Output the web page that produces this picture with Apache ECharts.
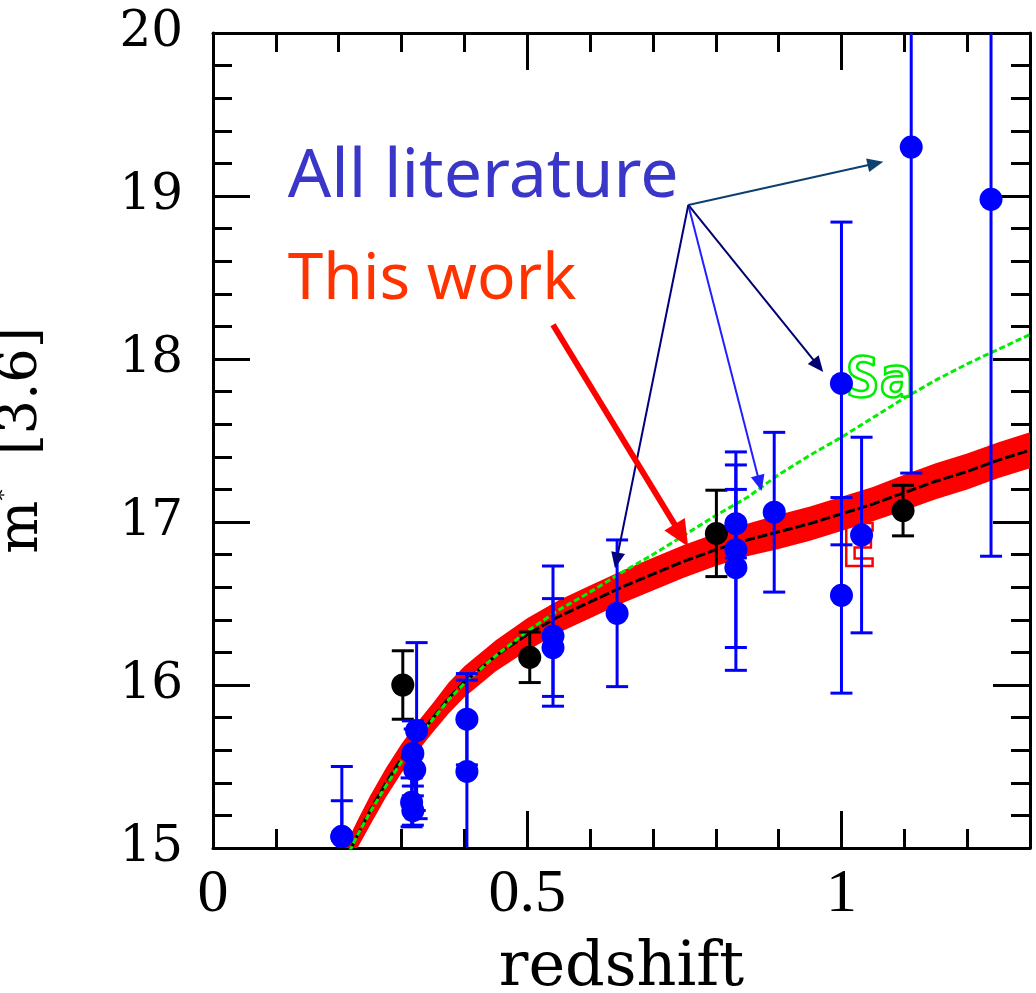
<!DOCTYPE html>
<html>
<head>
<meta charset="utf-8">
<script src="https://cdn.jsdelivr.net/npm/echarts@6/dist/echarts.min.js"></script>
<style>
  html, body { margin: 0; padding: 0; background: #ffffff; }
  #chart { width: 1036px; height: 993px; }
</style>
</head>
<body>
<div id="chart"></div>
<script>
// Redshift grid of the two model tracks
const modelZ  = [0.21, 0.22, 0.23, 0.25, 0.275, 0.30, 0.325, 0.35, 0.375, 0.40, 0.45, 0.50, 0.55, 0.60, 0.65, 0.70, 0.75, 0.80, 0.85, 0.90, 0.95, 1.00, 1.05, 1.10, 1.15, 1.20, 1.25, 1.30];
// Passively evolving (E) track with its uncertainty band, this work
const modelE  = [14.92, 15.00, 15.08, 15.23, 15.40, 15.55, 15.68, 15.80, 15.92, 16.02, 16.18, 16.31, 16.42, 16.51, 16.60, 16.68, 16.76, 16.83, 16.89, 16.94, 16.99, 17.05, 17.11, 17.18, 17.25, 17.31, 17.38, 17.44];
const modelEHalfWidth = [0.09, 0.09, 0.09, 0.09, 0.09, 0.09, 0.09, 0.09, 0.095, 0.095, 0.095, 0.1, 0.1, 0.1, 0.1, 0.1, 0.1, 0.1, 0.1, 0.105, 0.105, 0.105, 0.105, 0.11, 0.11, 0.11, 0.11, 0.11];
// Sa track
const modelSa = [14.93, 15.00, 15.08, 15.22, 15.38, 15.53, 15.67, 15.79, 15.91, 16.01, 16.18, 16.33, 16.46, 16.57, 16.69, 16.80, 16.92, 17.04, 17.15, 17.29, 17.41, 17.52, 17.64, 17.76, 17.87, 17.97, 18.06, 18.15];

// This work: m* at 3.6 micron
const workZ   = [0.302, 0.504, 0.801, 1.098];
const workM   = [16.00, 16.17, 16.93, 17.07];
const workErr = [0.21, 0.155, 0.265, 0.155];

// Literature values
const litZ   = [0.205, 0.205, 0.324, 0.318, 0.321, 0.316, 0.318, 0.404, 0.404, 0.541, 0.541, 0.643, 0.832, 0.832, 0.832, 0.893, 1.000, 1.000, 1.032, 1.111, 1.238];
const litM   = [15.07, 15.07, 15.72, 15.58, 15.48, 15.28, 15.23, 15.79, 15.47, 16.30, 16.23, 16.44, 16.99, 16.83, 16.72, 17.06, 17.85, 16.55, 16.92, 19.30, 18.98];
const litErr = [0.43, 0.22, 0.54, 0.20, 0.25, 0.15, 0.09, 0.28, 0.56, 0.43, 0.30, 0.45, 0.21, 0.60, 0.63, 0.49, 0.99, 0.60, 0.60, 2.00, 2.19];

// Axis ranges and labelled ticks
const xRange = [0, 1.3];
const yRange = [15, 20];
const xLabelValues = [0, 0.5, 1];

// Annotation anchors in data units
const labelAllLit  = { text: 'All literature', at: [0.119, 19.11] };
const labelThis    = { text: 'This work', at: [0.119, 18.48] };
const labelSa      = { text: 'Sa', at: [1.007, 17.865] };
const labelE       = { text: 'E', at: [1.0, 16.82] };
const litArrowFrom = [0.7563, 18.945];
const litArrowTips = [[1.0665, 19.21], [0.971, 17.92], [0.873, 17.19], [0.6396, 16.716]];
const workArrow    = [[0.541, 18.21], [0.756, 16.85]];

const chart = echarts.init(document.getElementById('chart'), null, { renderer: 'canvas' });

const SERIF = '"DejaVu Serif", serif';
const TIMES = '"Liberation Serif", "Times New Roman", serif';

function errorBars(color) {
  return function (params, api) {
    const z = api.value(0), m = api.value(1), e = api.value(2);
    const hi = Math.min(m + e, yRange[1]);
    const lo = Math.max(m - e, yRange[0]);
    const pHi = api.coord([z, hi]);
    const pLo = api.coord([z, lo]);
    const half = 11;
    const st = { stroke: color, lineWidth: 3 };
    const children = [{ type: 'line', shape: { x1: pHi[0], y1: pHi[1], x2: pLo[0], y2: pLo[1] }, style: st }];
    if (m + e <= yRange[1]) children.push({ type: 'line', shape: { x1: pHi[0] - half, y1: pHi[1], x2: pHi[0] + half, y2: pHi[1] }, style: st });
    if (m - e >= yRange[0]) children.push({ type: 'line', shape: { x1: pLo[0] - half, y1: pLo[1], x2: pLo[0] + half, y2: pLo[1] }, style: st });
    return { type: 'group', children: children };
  };
}

function bandItem(params, api) {
  const upper = [], lower = [];
  for (let i = 0; i < modelZ.length; i++) {
    upper.push(api.coord([modelZ[i], Math.min(modelE[i] + modelEHalfWidth[i], yRange[1])]));
    lower.push(api.coord([modelZ[i], Math.max(modelE[i] - modelEHalfWidth[i], yRange[0])]));
  }
  const pts = upper.concat(lower.reverse());
  const cs = params.coordSys;
  return {
    type: 'polygon',
    shape: { points: echarts.graphic.clipPointsByRect(pts, { x: cs.x, y: cs.y, width: cs.width, height: cs.height }) },
    style: { fill: '#ff0000' }
  };
}

const tickStyle = { color: '#000', width: 3 };
function xAxisDef(position, interval, major) {
  return {
    type: 'value', position: position, min: xRange[0], max: xRange[1], interval: interval,
    axisLine: { show: major, onZero: false, lineStyle: { color: '#000', width: 3 } },
    axisTick: { show: true, inside: true, length: major ? 37 : 19, lineStyle: tickStyle },
    splitLine: { show: false },
    axisLabel: { show: false }
  };
}

const xBottom = xAxisDef('bottom', 0.5, true);
xBottom.axisLabel = {
  show: true, margin: 16, color: '#000', fontFamily: TIMES, fontSize: 62,
  formatter: function (v) {
    return xLabelValues.some(function (t) { return Math.abs(t - v) < 1e-9; }) ? String(v) : '';
  }
};
xBottom.name = 'redshift';
xBottom.nameLocation = 'middle';
xBottom.nameGap = 90;
xBottom.nameTextStyle = { color: '#000', fontFamily: SERIF, fontSize: 62 };

function yAxisDef(position, withLabels) {
  const a = {
    type: 'value', position: position, min: yRange[0], max: yRange[1], interval: 1,
    axisLine: { show: true, onZero: false, lineStyle: { color: '#000', width: 3 } },
    axisTick: { show: true, inside: true, length: 37, lineStyle: tickStyle },
    minorTick: { show: true, splitNumber: 5, length: 19, lineStyle: tickStyle },
    splitLine: { show: false },
    minorSplitLine: { show: false },
    axisLabel: { show: withLabels, margin: 30, color: '#000', fontFamily: SERIF, fontSize: 50 }
  };
  if (withLabels) {
    a.name = '{m|m}{s|*}{b|  [3.6]}';
    a.nameLocation = 'middle';
    a.nameRotate = 90;
    a.nameGap = 163;
    a.nameTextStyle = {
      color: '#000',
      rich: {
        m: { fontFamily: SERIF, fontSize: 56, color: '#000' },
        s: { fontFamily: SERIF, fontSize: 22, color: '#000', verticalAlign: 'top' },
        b: { fontFamily: SERIF, fontSize: 54, color: '#000' }
      }
    };
  }
  return a;
}

const option = {
  backgroundColor: '#ffffff',
  animation: false,
  grid: { left: 213, top: 33, right: 6, bottom: 145, containLabel: false, outerBoundsMode: 'none' },
  xAxis: [xBottom, xAxisDef('bottom', 0.1, false), xAxisDef('top', 0.5, true), xAxisDef('top', 0.1, false)],
  yAxis: [yAxisDef('left', true), yAxisDef('right', false)],
  series: [
    {
      type: 'custom', name: 'E band', xAxisIndex: 0, yAxisIndex: 0, clip: true,
      data: [[modelZ[0], modelE[0]]],
      renderItem: bandItem, silent: true, z: 1
    },
    {
      type: 'line', name: 'E', xAxisIndex: 0, yAxisIndex: 0, clip: true,
      data: modelZ.map(function (z, i) { return [z, modelE[i]]; }),
      showSymbol: false, symbol: 'none', smooth: false,
      lineStyle: { color: '#000', width: 3, type: [10, 3] }, z: 2
    },
    {
      type: 'line', name: 'Sa', xAxisIndex: 0, yAxisIndex: 0, clip: true,
      data: modelZ.map(function (z, i) { return [z, modelSa[i]]; }),
      showSymbol: false, symbol: 'none', smooth: false,
      lineStyle: { color: '#00ee00', width: 3, type: [6, 3] }, z: 3
    },
    {
      type: 'custom', name: 'This work errors', xAxisIndex: 0, yAxisIndex: 0,
      data: workZ.map(function (z, i) { return [z, workM[i], workErr[i]]; }),
      encode: { x: 0, y: 1 }, renderItem: errorBars('#000000'), z: 4
    },
    {
      type: 'scatter', name: 'This work', xAxisIndex: 0, yAxisIndex: 0,
      data: workZ.map(function (z, i) { return [z, workM[i]]; }),
      symbol: 'circle', symbolSize: 23, itemStyle: { color: '#000000', opacity: 1 }, z: 5
    },
    {
      type: 'custom', name: 'Literature errors', xAxisIndex: 0, yAxisIndex: 0,
      data: litZ.map(function (z, i) { return [z, litM[i], litErr[i]]; }),
      encode: { x: 0, y: 1 }, renderItem: errorBars('#0000ff'), z: 6
    },
    {
      type: 'scatter', name: 'All literature', xAxisIndex: 0, yAxisIndex: 0,
      data: litZ.map(function (z, i) { return [z, litM[i]]; }),
      symbol: 'circle', symbolSize: 23, itemStyle: { color: '#0000ff', opacity: 1 }, z: 7
    }
  ]
};

chart.setOption(option);

// Annotations placed from data units through the axes
function px(p) { return chart.convertToPixel({ xAxisIndex: 0, yAxisIndex: 0 }, p); }

function arrow(from, to, color, width, headLen, headWidth) {
  const a = px(from), b = px(to);
  const dx = b[0] - a[0], dy = b[1] - a[1];
  const L = Math.hypot(dx, dy);
  const ux = dx / L, uy = dy / L;
  const bx = b[0] - ux * headLen, by = b[1] - uy * headLen;
  const nx = -uy * headWidth / 2, ny = ux * headWidth / 2;
  return [
    { type: 'line', z: 100, shape: { x1: a[0], y1: a[1], x2: bx + ux * 2, y2: by + uy * 2 }, style: { stroke: color, lineWidth: width } },
    { type: 'polygon', z: 100, shape: { points: [[b[0], b[1]], [bx + nx, by + ny], [bx - nx, by - ny]] }, style: { fill: color } }
  ];
}

function text(label, font, fill, stroke, lw, z) {
  const p = px(label.at);
  return {
    type: 'text', x: p[0], y: p[1], z: z,
    style: { text: label.text, font: font, fill: fill, stroke: stroke, lineWidth: lw, align: 'left', verticalAlign: 'middle' }
  };
}

const litColors = ['#0d3f70', '#000070', '#2020ff', '#000080'];
let graphics = [];
litArrowTips.forEach(function (tip, i) {
  graphics = graphics.concat(arrow(litArrowFrom, tip, litColors[i], 2, 16, 14));
});
graphics = graphics.concat(arrow(workArrow[0], workArrow[1], '#ff0000', 6, 26, 24));
graphics.push(text(labelAllLit, 'normal 68px "Comic Sans MS", "Noto Sans", sans-serif', '#3a36c8', null, 0, 100));
graphics.push(text(labelThis, 'normal 64px "Comic Sans MS", "Noto Sans", sans-serif', '#ff3300', null, 0, 100));
graphics.push(text(labelSa, 'bold 56px "DejaVu Sans Mono", monospace', 'none', '#00ee00', 2.5, 0));
graphics.push(text(labelE, 'bold 58px "DejaVu Sans Mono", monospace', 'none', '#ff0000', 2.5, 0));

chart.setOption({ graphic: { elements: graphics } });
</script>
</body>
</html>
